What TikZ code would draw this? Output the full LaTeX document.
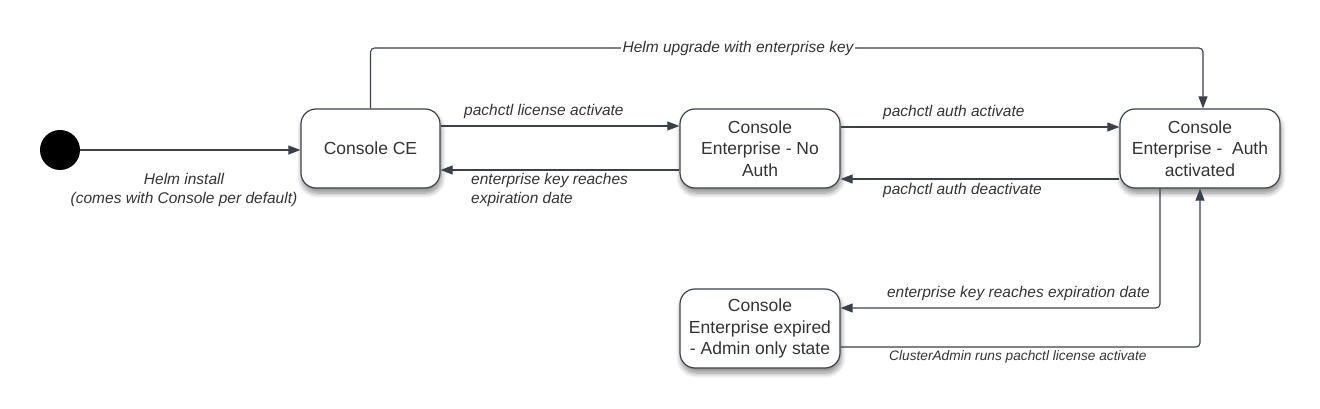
\documentclass[tikz,border=0pt]{standalone}
\usepackage{fontspec}
\setmainfont{Liberation Sans}
\usetikzlibrary{arrows.meta,shadows.blur}
\definecolor{linec}{HTML}{3A414A}
\definecolor{txt}{HTML}{333333}
\begin{document}
\begin{tikzpicture}[x=1pt,y=-1pt,
  state/.style={draw=linec, line width=1.2pt, rounded corners=15pt, fill=white,
    minimum width=160pt, minimum height=79pt, align=center, inner sep=2pt,
    font=\fontsize{17.5}{21.5}\selectfont, text=txt,
    blur shadow={shadow xshift=1pt, shadow yshift=-5pt, shadow blur radius=5pt, shadow blur steps=8, shadow opacity=45}},
  conn/.style={draw=linec, line width=1.1pt, -{Triangle[length=12pt,width=9pt]}, rounded corners=4pt},
  lab/.style={font=\fontsize{15.5}{18.5}\selectfont\itshape, text=txt, inner sep=1pt}]
\useasboundingbox (0,0) rectangle (1320,409);
\node[circle, fill=black, minimum size=40pt, inner sep=0pt] (start) at (60,150) {};
\node[state, minimum width=139pt] (ce) at (370.5,148.5) {Console CE};
\node[state] (noauth) at (760,148.5) {Console\\Enterprise - No\\Auth};
\node[state] (auth) at (1200,148.5) {Console\\Enterprise -\ \ Auth\\activated};
\node[state] (exp) at (760,328.5) {Console\\Enterprise expired\\- Admin only state};
\coordinate (top) at (0,48);
% connectors
\draw[conn] (start.east) -- (start.east -| ce.west);
\draw[conn] ([yshift=22.5pt]ce.east) -- ([yshift=22.5pt]noauth.west);
\draw[conn] ([yshift=-21.5pt]noauth.west) -- ([yshift=-21.5pt]ce.east);
\draw[conn] ([yshift=21.5pt]noauth.east) -- ([yshift=21.5pt]auth.west);
\draw[conn] ([yshift=-30.5pt]auth.west) -- ([yshift=-30.5pt]noauth.east);
\draw[conn] (ce.north) -- (ce.north |- top) -- ([xshift=3pt]auth.north |- top) -- ([xshift=3pt]auth.north);
\draw[conn] ([xshift=-40pt]auth.south) |- ([yshift=20.5pt]exp.east);
\draw[conn] ([yshift=-18.5pt]exp.east) -| (auth.south);
% labels
\node[lab, fill=white, inner sep=2pt] (lhelm) at (738,48) {Helm upgrade with enterprise key};
\node[lab, align=center] (linstall) at (184,190) {Helm install\\(comes with Console per default)};
\node[lab, anchor=west] (l1) at (463,111) {pachctl license activate};
\node[lab, anchor=west, align=left] (l2) at (470,190) {enterprise key reaches\\expiration date};
\node[lab, anchor=west] (l3) at (882,112) {pachctl auth activate};
\node[lab, anchor=west] (l4) at (882,190) {pachctl auth deactivate};
\node[lab, anchor=east] (l5) at (1151,293) {enterprise key reaches expiration date};
\node[lab, anchor=west, font=\fontsize{13.7}{16}\selectfont\itshape] (l6) at (888,357) {ClusterAdmin runs pachctl license activate};
\end{tikzpicture}
\end{document}
